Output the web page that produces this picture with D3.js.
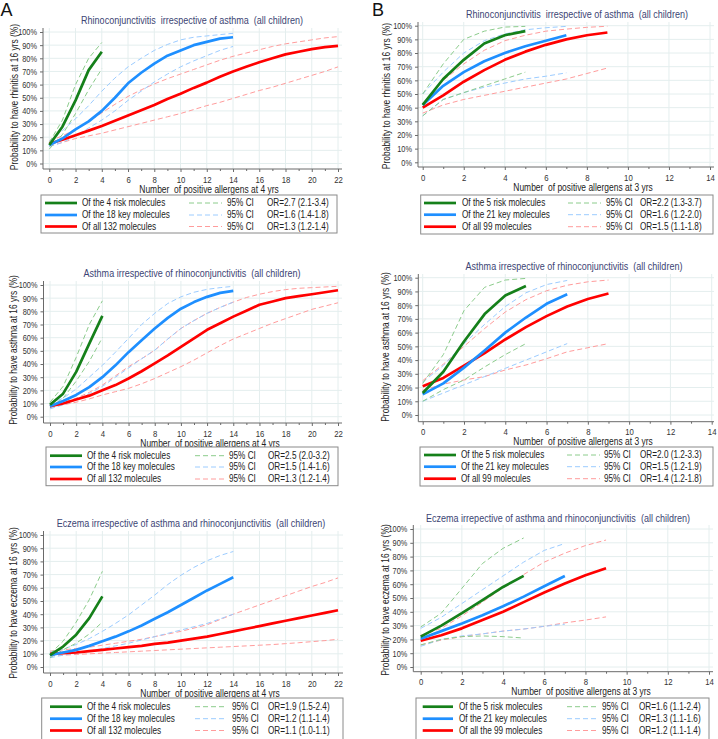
<!DOCTYPE html>
<html><head><meta charset="utf-8">
<script src="https://cdn.jsdelivr.net/npm/d3@7"></script>
<style>
html,body{margin:0;padding:0;background:#fff;}
svg{display:block;}
text{font-family:"Liberation Sans", Arial, sans-serif; white-space:pre;}
</style></head>
<body>
<svg id="chart" width="718" height="739"></svg>
<script>
// ---------------- DATA (values in %, index = number of positive allergens) ----------------
// Panel A: 4 yrs
const A1_riskMid = [14, 28, 48, 71, 85];
const A1_riskLo  = [11, 22, 38, 56, 72];
const A1_riskHi  = [16, 33, 60, 80, 92];
const A1_keyMid  = [14, 19, 26, 32, 40, 50, 61, 69, 76, 82, 86, 90, 92.5, 95, 96];
const A1_keyHi   = [17, 25, 34, 44, 55, 65, 73.5, 80, 86, 90.5, 94, 96, 97, 98, 99];
const A1_keyLo   = [13, 16, 21, 27, 33, 40, 48, 55, 62, 68, 73.5, 78, 82, 86, 89];
const A1_allMid  = [15, 18, 21.5, 25, 28.5, 32.5, 36.5, 40.5, 44.5, 49, 53, 57.5, 61.5, 66, 70, 73.5, 77, 80, 83, 85, 87, 88.5, 89.5];
const A1_allHi   = [17, 21, 26, 32, 38.5, 45, 51, 56, 60.5, 64.5, 68, 71.5, 75, 78.5, 81.5, 84, 86.5, 89, 91, 92.5, 94, 95.5, 96.5];
const A1_allLo   = [13, 16, 19, 21, 23, 25.5, 28, 30.5, 33, 35.5, 38, 41, 44, 46.5, 49.5, 52.5, 55.5, 58, 61, 64, 67, 70, 73.5];

const A2_riskMid = [9, 17.5, 34, 55.5, 76.5];
const A2_riskHi  = [11, 23, 45, 70, 88];
const A2_riskLo  = [7, 14, 27, 42, 60];
const A2_keyMid  = [8, 12, 16.5, 22.5, 30, 39, 49, 58, 67, 75, 82, 87, 91, 94, 95.5];
const A2_keyHi   = [10, 14, 21, 30, 39, 49, 59.5, 70, 78.5, 86, 91, 94.5, 96.7, 98, 99];
const A2_keyLo   = [6, 9, 13, 17.5, 23, 30, 37, 44, 50.5, 59, 67, 73, 78.5, 83, 87];
const A2_allMid  = [8, 10, 13, 16, 20, 24, 29, 34.5, 40.5, 46.5, 53, 59.5, 66, 71, 76, 80.5, 85, 87.5, 90, 91.5, 93, 94.5, 96];
const A2_allHi   = [9, 11, 14, 18.5, 24, 31, 38, 44, 50.5, 59, 67, 73, 78.5, 83, 87, 90.5, 93, 95, 96.5, 97.5, 98, 98.5, 99];
const A2_allLo   = [7, 9, 11, 13.5, 16.5, 19, 21.5, 25, 29, 33.5, 38, 43, 48.5, 54, 59, 63, 67, 71, 74.5, 78, 81.5, 84, 86.5];

const A3_riskMid = [9, 15.5, 24.5, 37, 53.5];
const A3_riskHi  = [10, 19.5, 34, 51, 72.5];
const A3_riskLo  = [7, 13, 18, 25, 34];
const A3_keyMid  = [9, 11, 13, 16, 19.5, 23, 27, 31.5, 36.5, 41.5, 47, 52.5, 58, 63, 68];
const A3_keyHi   = [11, 13.5, 17, 21.5, 27, 33, 39.5, 47, 54.5, 62.5, 69.5, 75.5, 80.5, 84.5, 87.5];
const A3_keyLo   = [7, 9, 10.5, 12, 14, 16, 18, 20.5, 23, 25.5, 28, 30.5, 33, 36.5, 40];
const A3_allMid  = [10, 10.5, 11, 12, 13, 14, 15, 16, 17.5, 18.5, 20, 21.5, 23, 25, 27, 29, 31, 33, 35, 37, 39, 41, 43];
const A3_allHi   = [12, 13, 14, 15, 16.5, 18, 19.5, 21, 23, 25, 27, 29.5, 32, 36, 40, 43.5, 47, 50.5, 54, 57.5, 61, 64, 67.5];
const A3_allLo   = [8.5, 9, 9.5, 10, 10.5, 11, 11.5, 12, 12.5, 13, 13.5, 14, 14.5, 15, 15.5, 16, 16.5, 17, 17.7, 18.4, 19.2, 20, 21];

// Panel B: 3 yrs
const B1_riskMid = [42, 61, 75, 87, 93, 96];
const B1_riskHi  = [50, 72, 90, 96, 99, 99.5];
const B1_riskLo  = [34, 46, 51, 56, 61, 66];
const B1_keyMid  = [42, 56, 66, 74, 80, 85, 89, 93];
const B1_keyHi   = [50, 66, 80, 89, 94, 97, 98.5, 99.5];
const B1_keyLo   = [34, 46, 51, 55, 58, 61, 63, 65.5];
const B1_allMid  = [40, 49, 59, 67.5, 75, 81, 86, 90, 93, 95];
const B1_allHi   = [43, 60, 72, 82, 89, 93, 96, 97.5, 98.8, 99.6];
const B1_allLo   = [36, 42, 46, 49, 52, 55, 58, 61, 65, 69];

const B2_riskMid = [16, 31.5, 53.5, 73.5, 87, 94];
const B2_riskHi  = [23, 44, 76, 93, 98.3, 99.5];
const B2_riskLo  = [10, 18.5, 25.5, 35, 44, 52];
const B2_keyMid  = [15, 23, 34.5, 47, 60, 71, 81, 88];
const B2_keyHi   = [24, 36, 52, 66, 79, 89, 95, 98];
const B2_keyLo   = [10, 16, 22, 28, 34, 40, 46, 52];
const B2_allMid  = [21, 27, 36, 45, 55, 64, 72, 79, 84.5, 88.5];
const B2_allHi   = [25, 37, 50, 63, 75, 84, 90.5, 94.5, 97, 98.3];
const B2_allLo   = [18, 22.5, 25.5, 28, 32.8, 36.4, 41, 46, 49, 52];

const B3_riskMid = [22, 30, 39, 48.5, 58, 66];
const B3_riskHi  = [29, 39, 57, 75, 86, 93.5];
const B3_riskLo  = [16, 20, 22, 22.5, 22, 21];
const B3_keyMid  = [20.5, 26, 31.5, 37.5, 44, 51, 58.5, 66];
const B3_keyHi   = [28, 36, 46, 56, 66, 76, 84.5, 89.5];
const B3_keyLo   = [15, 20, 22.5, 24, 26, 27.5, 29.5, 31];
const B3_allMid  = [19, 23, 28, 34, 40, 47, 54, 60.5, 66.5, 71.5];
const B3_allHi   = [23, 28, 37, 47, 57.5, 67, 76, 82.5, 88, 92];
const B3_allLo   = [16, 19.5, 22, 24, 26, 27.5, 29.5, 32, 34, 36.3];

// ---------------- TEXT ----------------
const titles = {
  A1: "Rhinoconjunctivitis  irrespective of asthma  (all children)",
  A2: "Asthma irrespective of rhinoconjunctivitis  (all children)",
  A3: "Eczema irrespective of asthma and rhinoconjunctivitis  (all children)",
  B1: "Rhinoconjunctivitis  irrespective of asthma  (all children)",
  B2: "Asthma irrespective of rhinoconjunctivitis  (all children)",
  B3: "Eczema irrepective of asthma and rhinoconjunctivitis  (all children)"
};
const yTitles = {
  rh: "Probability to have rhinitis at 16 yrs (%)",
  as: "Probability to have asthma at 16 yrs (%)",
  ec: "Probability to have eczema at 16 yrs (%)"
};
const xTitleA = "Number  of positive allergens at 4 yrs";
const xTitleB = "Number  of positive allergens at 3 yrs";
const legendA = ["Of the 4 risk molecules", "Of the 18 key molecules", "Of all 132 molecules"];
const legendB = ["Of the 5 risk molecules", "Of the 21 key molecules", "Of all 99 molecules"];
const legendB3 = ["Of the 5 risk molecules", "Of the 21 key molecules", "Of all the 99 molecules"];
const orA1 = ["OR=2.7 (2.1-3.4)", "OR=1.6 (1.4-1.8)", "OR=1.3 (1.2-1.4)"];
const orA2 = ["OR=2.5 (2.0-3.2)", "OR=1.5 (1.4-1.6)", "OR=1.3 (1.2-1.4)"];
const orA3 = ["OR=1.9 (1.5-2.4)", "OR=1.2 (1.1-1.4)", "OR=1.1 (1.0-1.1)"];
const orB1 = ["OR=2.2 (1.3-3.7)", "OR=1.6 (1.2-2.0)", "OR=1.5 (1.1-1.8)"];
const orB2 = ["OR=2.0 (1.2-3.3)", "OR=1.5 (1.2-1.9)", "OR=1.4 (1.2-1.8)"];
const orB3 = ["OR=1.6 (1.1-2.4)", "OR=1.3 (1.1-1.6)", "OR=1.2 (1.1-1.4)"];
const ciLabel = "95% CI";
const yTickValues = [0,10,20,30,40,50,60,70,80,90,100];

// ---------------- STYLE ----------------
const SX = 0.82;
const colMain = ["#15801a", "#1e8fff", "#ff0000"];
const colCI   = ["#8ccc8c", "#9cccff", "#ff9c9c"];
const gridCol = "#e4eeee";
const axisCol = "#6a6a6a";
const titleCol = "#3c4474";

const svg = d3.select("#chart");

function txt(g, x, y, s, o = {}) {
  const size = o.size || 10, anchor = o.anchor || "start", fill = o.fill || "#222",
        rot = o.rot || 0, sx = (o.sx === undefined ? SX : o.sx);
  const gg = g.append("g").attr("transform", `translate(${x},${y}) rotate(${rot}) scale(${sx},1)`);
  gg.append("text").attr("x", 0).attr("y", 0)
    .attr("text-anchor", anchor).attr("dominant-baseline", "central")
    .style("font-size", size + "px").attr("fill", fill).text(s);
  return gg;
}

const panels = [
  { id:"A1", xMax:22, x0:49.3, x1:338, yAxisX:43, y100:32, y0:163.5, xAxisY:169, right:342, top:28,
    yT:yTitles.rh, yTX:14, yTY:97, xT:xTitleA, xTX:209, titleX:192, titleY:20,
    series:[[A1_riskMid,A1_riskLo,A1_riskHi],[A1_keyMid,A1_keyLo,A1_keyHi],[A1_allMid,A1_allLo,A1_allHi]],
    leg:{labels:legendA, ors:orA1, box:[41,337,195,233], rows:[203,215,226.5], line:[45,77], text:82, dash:[189,222], ci:227, or:267} },
  { id:"A2", xMax:22, x0:50, x1:338, yAxisX:43.5, y100:285, y0:416.7, xAxisY:423, right:342, top:281,
    yT:yTitles.as, yTX:13, yTY:350, xT:xTitleA, xTX:210, titleX:192, titleY:273,
    series:[[A2_riskMid,A2_riskLo,A2_riskHi],[A2_keyMid,A2_keyLo,A2_keyHi],[A2_allMid,A2_allLo,A2_allHi]],
    leg:{labels:legendA, ors:orA2, box:[46,338,447,485.7], rows:[455.7,467,479], line:[50,82], text:87, dash:[195,227], ci:229, or:268} },
  { id:"A3", xMax:22, x0:50, x1:338, yAxisX:43.5, y100:535, y0:667, xAxisY:673, right:343, top:531,
    yT:yTitles.ec, yTX:13, yTY:603, xT:xTitleA, xTX:210, titleX:191, titleY:523,
    series:[[A3_riskMid,A3_riskLo,A3_riskHi],[A3_keyMid,A3_keyLo,A3_keyHi],[A3_allMid,A3_allLo,A3_allHi]],
    leg:{labels:legendA, ors:orA3, box:[41.7,343,698,742], rows:[706.7,718.7,730.5], line:[50,82], text:87, dash:[195,227], ci:232, or:268} },
  { id:"B1", xMax:14, x0:422.7, x1:710, yAxisX:418, y100:25.7, y0:162.3, xAxisY:167, right:714, top:22,
    yT:yTitles.rh, yTX:386, yTY:96, xT:xTitleB, xTX:583, titleX:577, titleY:14,
    series:[[B1_riskMid,B1_riskLo,B1_riskHi],[B1_keyMid,B1_keyLo,B1_keyHi],[B1_allMid,B1_allLo,B1_allHi]],
    leg:{labels:legendB, ors:orB1, box:[420.7,713,195,234], rows:[203,214.7,226.7], line:[424,456], text:462, dash:[568,601], ci:606, or:640} },
  { id:"B2", xMax:14, x0:422.7, x1:711.7, yAxisX:418.3, y100:277.7, y0:415, xAxisY:421.7, right:714, top:274,
    yT:yTitles.as, yTX:385, yTY:347, xT:xTitleB, xTX:583, titleX:574, titleY:266,
    series:[[B2_riskMid,B2_riskLo,B2_riskHi],[B2_keyMid,B2_keyLo,B2_keyHi],[B2_allMid,B2_allLo,B2_allHi]],
    leg:{labels:legendB, ors:orB2, box:[420,713,447,486], rows:[455,466.7,478.7], line:[424,456], text:461, dash:[567,600], ci:604, or:640} },
  { id:"B3", xMax:14, x0:420.7, x1:709, yAxisX:413.3, y100:529, y0:667, xAxisY:671.7, right:713, top:525,
    yT:yTitles.ec, yTX:385, yTY:600, xT:xTitleB, xTX:581, titleX:558, titleY:518,
    series:[[B3_riskMid,B3_riskLo,B3_riskHi],[B3_keyMid,B3_keyLo,B3_keyHi],[B3_allMid,B3_allLo,B3_allHi]],
    leg:{labels:legendB3, ors:orB3, box:[416,709,698,742], rows:[706.7,718.7,730.5], line:[422.7,453], text:459, dash:[567,597], ci:602, or:639} }
];

function drawPanel(p) {
  const g = svg.append("g").attr("class", "panel-" + p.id);
  const x = d3.scaleLinear().domain([0, p.xMax]).range([p.x0, p.x1]);
  const y = d3.scaleLinear().domain([0, 100]).range([p.y0, p.y100]);
  const majorX = d3.range(0, p.xMax + 1, 2);
  const minorX = d3.range(1, p.xMax, 2);

  // grid
  const grid = g.append("g");
  grid.selectAll("line.h").data(yTickValues).join("line")
    .attr("x1", p.yAxisX).attr("x2", p.right)
    .attr("y1", d => y(d)).attr("y2", d => y(d))
    .attr("stroke", gridCol).attr("stroke-width", 1);
  grid.selectAll("line.v").data(majorX).join("line")
    .attr("x1", d => x(d)).attr("x2", d => x(d))
    .attr("y1", p.top).attr("y2", p.xAxisY)
    .attr("stroke", gridCol).attr("stroke-width", 1);

  // y axis
  const ya = g.append("g").attr("transform", `translate(${p.yAxisX},0)`)
    .call(d3.axisLeft(y).tickValues(yTickValues).tickFormat(d => d + "%").tickSize(3).tickPadding(3));
  ya.select(".domain").remove();
  ya.selectAll(".tick line").attr("stroke", axisCol);
  ya.selectAll(".tick text").attr("fill", "#333").style("font-size", "9px")
    .attr("x", -6 / SX).attr("transform", `scale(${SX},1)`);
  g.append("line").attr("x1", p.yAxisX).attr("x2", p.yAxisX).attr("y1", p.top).attr("y2", p.xAxisY)
    .attr("stroke", axisCol);

  // x axis
  const xa = g.append("g").attr("transform", `translate(0,${p.xAxisY})`)
    .call(d3.axisBottom(x).tickValues(majorX).tickSize(3).tickPadding(3));
  xa.select(".domain").remove();
  xa.selectAll(".tick line").attr("stroke", axisCol);
  xa.selectAll(".tick text").attr("fill", "#333").style("font-size", "9.5px")
    .attr("transform", `scale(${SX},1)`).attr("x", 0).attr("dy", null).attr("y", 13.8);
  const xm = g.append("g").attr("transform", `translate(0,${p.xAxisY})`)
    .call(d3.axisBottom(x).tickValues(minorX).tickSize(2).tickFormat(""));
  xm.select(".domain").remove();
  xm.selectAll(".tick line").attr("stroke", axisCol);
  g.append("line").attr("x1", p.yAxisX).attr("x2", p.right).attr("y1", p.xAxisY).attr("y2", p.xAxisY)
    .attr("stroke", axisCol);

  // titles
  txt(g, p.titleX, p.titleY, titles[p.id], {size: 11, anchor: "middle", fill: titleCol});
  txt(g, p.xTX, p.xAxisY + 20.5, p.xT, {size: 10, anchor: "middle", fill: "#222", sx: 0.845});
  txt(g, p.yTX, p.yTY, p.yT, {size: 10.3, anchor: "middle", fill: "#222", rot: -90});

  // curves
  const line = d3.line().x((d, i) => x(i)).y(d => y(d));
  const order = [2, 1, 0];
  order.forEach(k => {
    const [mid, lo, hi] = p.series[k];
    [lo, hi].forEach(arr => {
      g.append("path").datum(arr).attr("d", line).attr("fill", "none")
        .attr("stroke", colCI[k]).attr("stroke-width", 1).attr("stroke-dasharray", "5,3");
    });
  });
  order.forEach(k => {
    const mid = p.series[k][0];
    g.append("path").datum(mid).attr("d", line).attr("fill", "none")
      .attr("stroke", colMain[k]).attr("stroke-width", 2.7)
      .attr("stroke-linejoin", "round").attr("stroke-linecap", "butt");
  });

  // legend
  const L = p.leg;
  const lg = g.append("g");
  lg.append("rect").attr("x", L.box[0]).attr("y", L.box[2])
    .attr("width", L.box[1] - L.box[0]).attr("height", L.box[3] - L.box[2])
    .attr("fill", "#fff").attr("stroke", "#8a8a8a").attr("stroke-width", 1);
  L.rows.forEach((ry, k) => {
    lg.append("line").attr("x1", L.line[0]).attr("x2", L.line[1]).attr("y1", ry).attr("y2", ry)
      .attr("stroke", colMain[k]).attr("stroke-width", 2.7);
    txt(lg, L.text, ry, L.labels[k], {size: 10});
    lg.append("line").attr("x1", L.dash[0]).attr("x2", L.dash[1]).attr("y1", ry).attr("y2", ry)
      .attr("stroke", colCI[k]).attr("stroke-width", 1).attr("stroke-dasharray", "5,3");
    txt(lg, L.ci, ry, ciLabel, {size: 10});
    txt(lg, L.or, ry, L.ors[k], {size: 10});
  });
}

panels.forEach(drawPanel);

// panel letters
txt(svg, 0.5, 9.5, "A", {size: 18, sx: 1, fill: "#111"});
txt(svg, 372, 9.5, "B", {size: 18, sx: 1, fill: "#111"});
</script>
</body></html>
